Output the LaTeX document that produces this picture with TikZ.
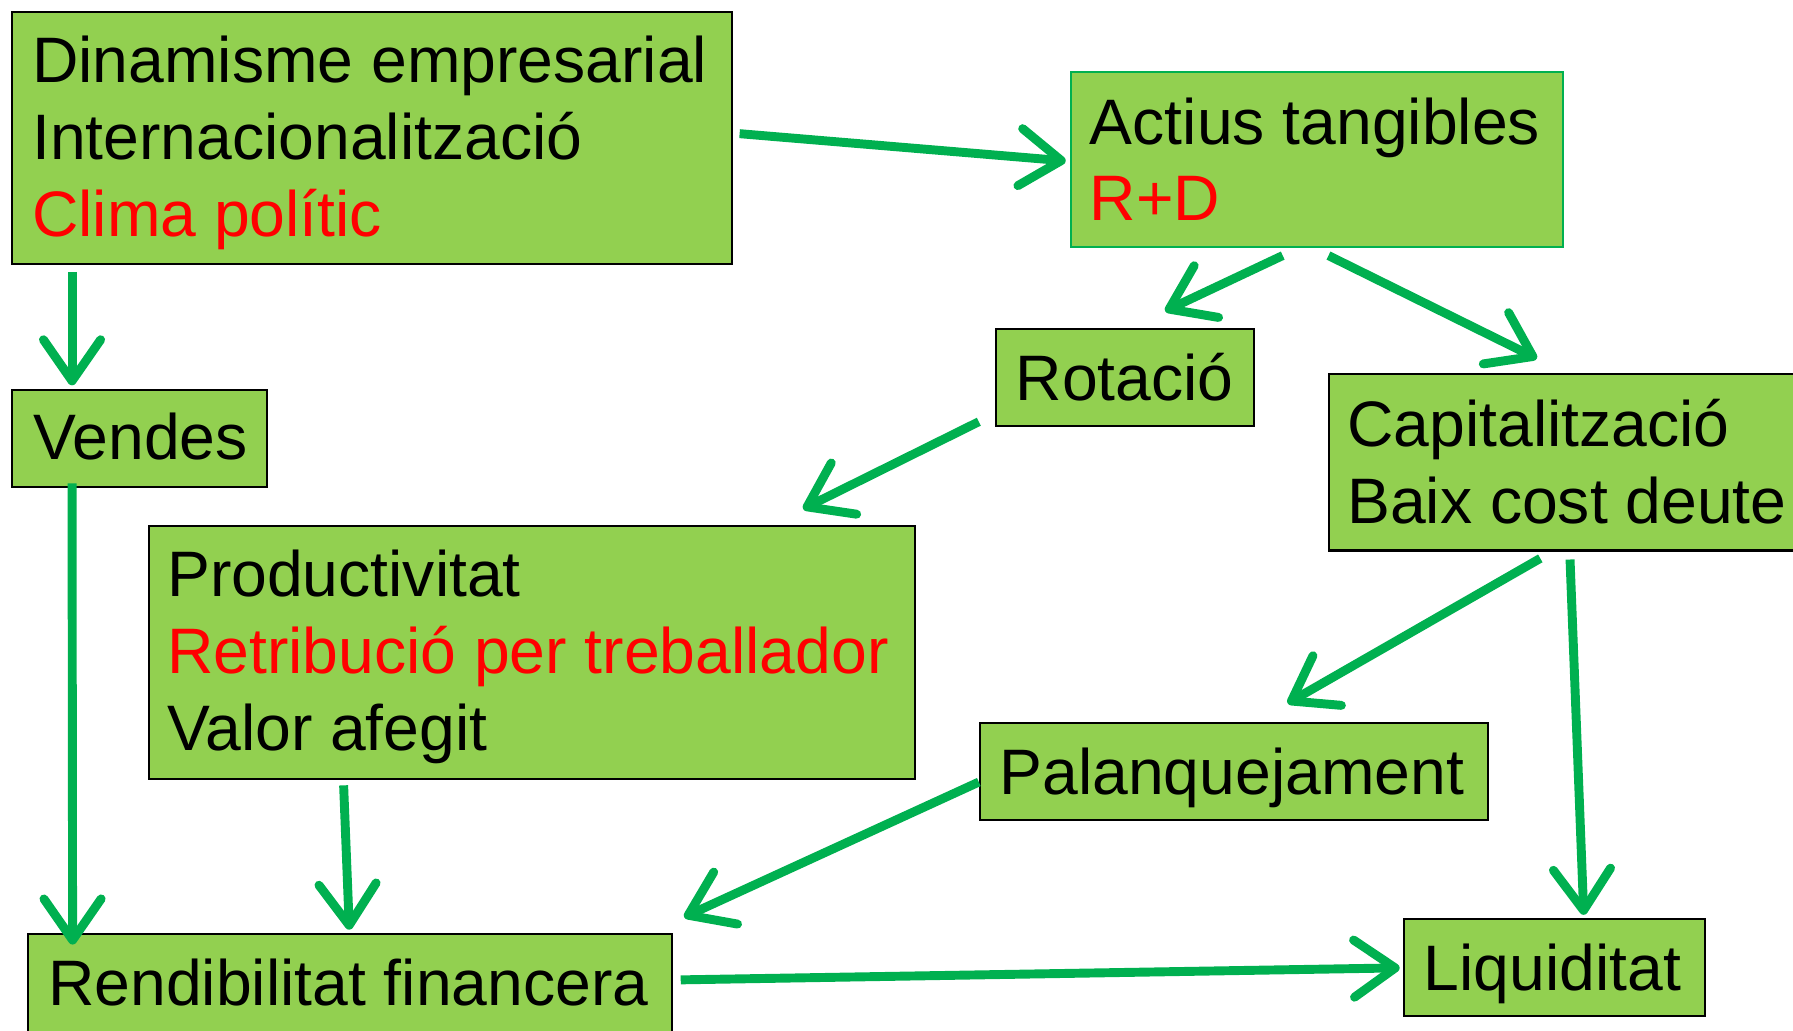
\documentclass[tikz,border=0pt]{standalone}
\usepackage{fontspec}
\setmainfont{Liberation Sans}
\usetikzlibrary{arrows.meta}
\definecolor{boxgreen}{HTML}{92D050}
\definecolor{arrgreen}{HTML}{00B050}
\definecolor{txtred}{HTML}{FF0000}
\begin{document}
\begin{tikzpicture}[x=1pt,y=1pt,
  box/.style={draw=black, line width=1.8pt, fill=boxgreen, rectangle, anchor=north west, inner sep=0pt},
  gbox/.style={box, draw=arrgreen, line width=1.5pt},
  lbl/.style={anchor=base west, inner sep=0pt, font=\fontsize{56.2}{66}\selectfont},
  redlbl/.style={lbl, text=txtred},
  arr/.style={draw=arrgreen, line width=7.8pt, -{Straight Barb[length=36pt,width=50pt,round]}}]
\useasboundingbox (0,0) rectangle (1568,-901);

% boxes
\node[box,  minimum width=629pt, minimum height=220pt] (A)    at (10,-10) {};
\node[gbox, minimum width=430pt, minimum height=153pt] (B)    at (936,-62) {};
\node[box,  minimum width=223pt, minimum height=85pt]  (Ven)  at (10,-340) {};
\node[box,  minimum width=226pt, minimum height=85pt]  (Rot)  at (870,-287) {};
\node[box,  minimum width=430pt, minimum height=154pt] (Cap)  at (1161,-326.5) {};
\node[box,  minimum width=670pt, minimum height=221pt] (Prod) at (129.5,-459) {};
\node[box,  minimum width=444pt, minimum height=85pt]  (Pal)  at (856,-631) {};
\node[box,  minimum width=563pt, minimum height=95pt]  (Rend) at (23.5,-816) {};
\node[box,  minimum width=263pt, minimum height=85pt]  (Liq)  at (1227,-803) {};

% texts
\node[lbl]    (tA1) at (28,-72)    {Dinamisme empresarial};
\node[lbl]    (tA2) at (28,-139.5) {Internacionalització};
\node[redlbl] (tA3) at (28,-207)   {Clima polític};
\node[lbl]    (tB1) at (953,-126)  {Actius tangibles};
\node[redlbl] (tB2) at (953,-192.5){R+D};
\node[lbl]    (tV)  at (29,-402)   {Vendes};
\node[lbl]    (tR)  at (888,-350)  {Rotació};
\node[lbl]    (tC1) at (1178,-390.5){Capitalització};
\node[lbl]    (tC2) at (1178,-457.5){Baix cost deute};
\node[lbl]    (tP1) at (146,-522)  {Productivitat};
\node[redlbl] (tP2) at (146,-589)  {Retribució per treballador};
\node[lbl]    (tP3) at (146,-656.5){Valor afegit};
\node[lbl]    (tPa) at (874,-695)  {Palanquejament};
\node[lbl]    (tRe) at (42,-879)   {Rendibilitat financera};
\node[lbl]    (tL)  at (1245,-866) {Liquiditat};

% arrows
\draw[arr] ([xshift=6pt,yshift=4pt]A.east) -- ([xshift=-4pt,yshift=-1.5pt]B.west);
\draw[arr] ([xshift=53pt,yshift=-6pt]A.south west) -- ([xshift=53pt,yshift=3pt]Ven.north west);
\draw[arr] ([xshift=-30pt,yshift=-7pt]B.south) -- ([xshift=35pt,yshift=15pt]Rot.north);
\draw[arr] ([xshift=10pt,yshift=-7pt]B.south) -- ([xshift=183pt,yshift=13pt]Cap.north west);
\draw[arr] ([xshift=-14pt,yshift=5pt]Rot.south west) -- ([xshift=-99pt,yshift=14pt]Prod.north east);
\draw[arr] ([xshift=53pt,yshift=4pt]Ven.south west) -- ([xshift=40pt,yshift=-10pt]Rend.north west);
\draw[arr] ([xshift=171pt,yshift=-5pt]Prod.south west) -- ([xshift=282pt,yshift=3pt]Rend.north west);
\draw[arr] ([xshift=186pt,yshift=-6pt]Cap.south west) -- ([xshift=270pt,yshift=16pt]Pal.north west);
\draw[arr] ([xshift=212pt,yshift=-7pt]Cap.south west) -- ([xshift=158pt,yshift=3pt]Liq.north west);
\draw[arr] ([yshift=-9.5pt]Pal.west) -- ([xshift=10pt,yshift=14pt]Rend.north east);
\draw[arr] ([xshift=7pt,yshift=7.5pt]Rend.east) -- ([xshift=-3pt]Liq.west);
\end{tikzpicture}
\end{document}
